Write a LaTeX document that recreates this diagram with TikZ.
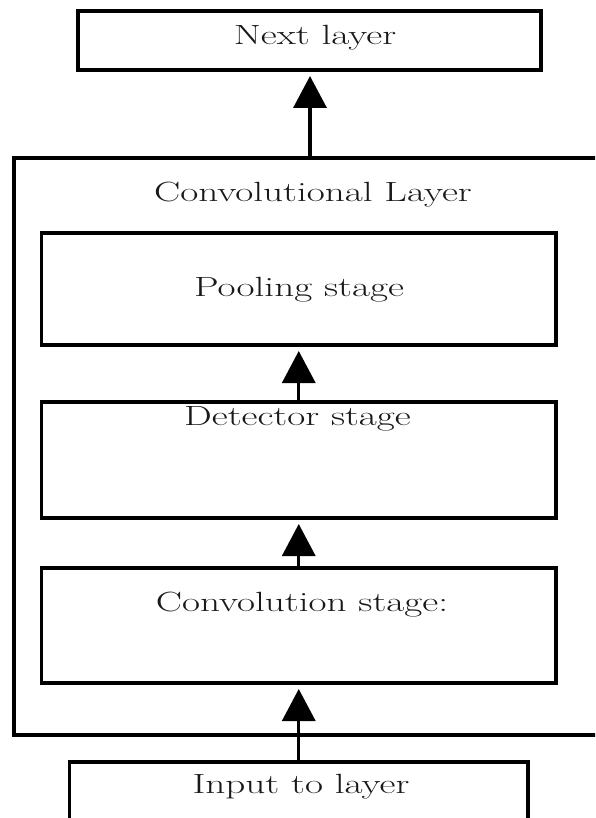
\documentclass[tikz,border=0pt]{standalone}
\usetikzlibrary{arrows.meta}
\newcommand{\wtext}[1]{\scalebox{1.41}[1]{#1}}
\begin{document}
\begin{tikzpicture}[x=1pt,y=-1pt,
  box/.style={draw, line width=3.4pt, inner sep=0pt, outer sep=0pt},
  lbl/.style={anchor=base, inner sep=0pt, font=\fontsize{27.8}{32}\selectfont, text=black!90},
  flow/.style={line width=3.4pt, -{Triangle[length=32pt,width=33pt]}, shorten >=6pt}]
\useasboundingbox (0,0) rectangle (595,818);
\clip (0,0) rectangle (595,818);
\fill[white] (0,0) rectangle (595,818);

% boxes
\node[box, minimum width=463pt, minimum height=59pt] (next) at (309.5,40.5) {};
\node[box, minimum width=606pt, minimum height=577pt] (outer) at (317,446.5) {};
\node[box, minimum width=514.5pt, minimum height=112pt] (pool) at (298.75,289) {};
\node[box, minimum width=514.5pt, minimum height=116pt] (det) at (298.75,460) {};
\node[box, minimum width=514.5pt, minimum height=115pt] (conv) at (298.75,625.5) {};
\node[box, minimum width=458.5pt, minimum height=78pt] (in) at (298.75,801) {};

% labels
\node[lbl] (tnext) at (315,45) {\wtext{Next layer}};
\node[lbl] (touter) at (313,202) {\wtext{Convolutional Layer}};
\node[lbl] (tpool) at (299,296) {\wtext{Pooling stage}};
\node[lbl] (tdet) at (297.5,425) {\wtext{Detector stage}};
\node[lbl] (tconv) at (302,611) {\wtext{Convolution stage:}};
\node[lbl] (tin) at (301,793) {\wtext{Input to layer}};

% connectors
\coordinate (ax) at (310,0);
\draw[flow] (outer.north -| ax) -- (next.south -| ax);
\draw[flow] (det.north) -- (pool.south);
\draw[flow] (conv.north) -- (det.south);
\draw[flow] (in.north) -- (conv.south);
\end{tikzpicture}
\end{document}
